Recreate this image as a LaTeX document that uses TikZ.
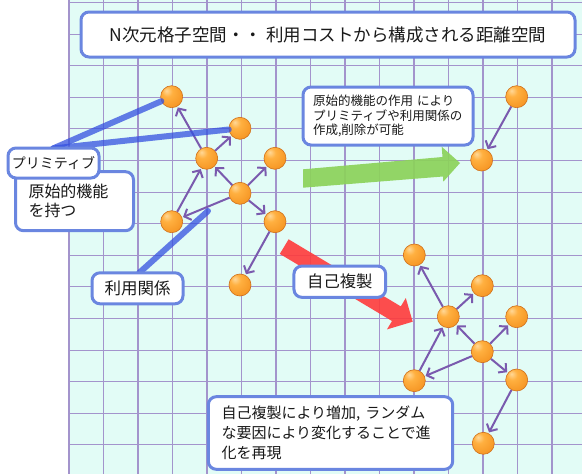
\documentclass[tikz,border=0pt]{standalone}
\usepackage{fontspec}
\newfontfamily\jp{Noto Sans CJK JP}
\usetikzlibrary{arrows.meta}
\definecolor{gridbg}{HTML}{E2FCF6}
\definecolor{gridln}{HTML}{A394CC}
\definecolor{boxln}{HTML}{6A86E0}
\definecolor{arr}{HTML}{7A5AAE}
\definecolor{ballhi}{HTML}{FFD898}
\definecolor{ballin}{HTML}{FFB040}
\definecolor{ballout}{HTML}{F59422}
\definecolor{ballrim}{HTML}{D0701A}
\definecolor{bluel}{HTML}{3451E0}
\definecolor{greenar}{HTML}{8CD25A}
\definecolor{redar}{HTML}{FF3B3B}
\pgfdeclareradialshading{orangeball}{\pgfpoint{-12bp}{14bp}}{color(0bp)=(ballhi); color(12bp)=(ballin); color(36bp)=(ballout); color(56bp)=(ballrim); color(80bp)=(ballrim)}
\begin{document}
\begin{tikzpicture}[x=1pt,y=-1pt,
 ball/.style={circle, minimum size=22pt, inner sep=0pt, shading=orangeball, draw=ballrim, line width=0.6pt},
 link/.style={draw=arr, line width=2pt, -{Straight Barb[length=5.5pt,width=12pt]}, shorten >=1pt},
 callout/.style={draw=boxln, line width=3pt, fill=white, rounded corners=8pt, inner sep=0pt, text=black!90},
 pointer/.style={draw=bluel, draw opacity=0.75, line width=6pt, line cap=round},
 gridline/.style={draw=gridln, line width=1.1pt},
]
\useasboundingbox (0,0) rectangle (582,474);
\fill[white] (0,0) rectangle (582,474);
% grid
\fill[gridbg] (69,0) rectangle (582,474);
\foreach \k in {0,...,14} \draw[gridline] (69+34.5*\k,0) -- (69+34.5*\k,474);
\foreach \k in {0,...,14} \draw[gridline] (69,2.5+31.6*\k) -- (582,2.5+31.6*\k);
% block arrows
\fill[greenar, fill opacity=0.92] (303,169.3) -- (442.5,157) -- (441.7,146.7) -- (460,163) -- (443.3,181.7) -- (443,176.5) -- (303,187.7) -- cycle;
\fill[redar, fill opacity=0.9] (288.6,239.3) -- (400.8,306.4) -- (405.8,298.0) -- (412.7,321.7) -- (387.0,329.4) -- (392.0,321.0) -- (279.8,253.9) -- cycle;
% balls, left group
\node[ball] (A) at (171.7,96.7) {};
\node[ball] (B) at (240,128.3) {};
\node[ball] (C) at (206.7,158.3) {};
\node[ball] (D) at (275,158.3) {};
\node[ball] (E) at (240,193.3) {};
\node[ball] (F) at (171.7,221.7) {};
\node[ball] (G) at (275,221.7) {};
\node[ball] (H) at (240,285) {};
% top right
\node[ball] (I) at (516.7,96.7) {};
\node[ball] (J) at (481.7,160) {};
% lower right group
\node[ball] (K) at (414.3,255) {};
\node[ball] (L) at (482.3,285.7) {};
\node[ball] (M) at (448.3,316.7) {};
\node[ball] (N) at (516.7,316.7) {};
\node[ball] (O) at (482.3,351.7) {};
\node[ball] (P) at (414.3,380.7) {};
\node[ball] (Q) at (516.7,380) {};
\node[ball] (R) at (483.3,443.3) {};
% links
\draw[link] (C) -- (A);
\draw[link] (C) -- (B);
\draw[link] (E) -- (C);
\draw[link] (E) -- (D);
\draw[link] (E) -- (F);
\draw[link] (F) -- (C);
\draw[link] (E) -- (G);
\draw[link] (G) -- (H);
\draw[link] (I) -- (J);
\draw[link] (M) -- (K);
\draw[link] (M) -- (L);
\draw[link] (O) -- (M);
\draw[link] (O) -- (N);
\draw[link] (P) -- (M);
\draw[link] (O) -- (P);
\draw[link] (O) -- (Q);
\draw[link] (Q) -- (R);
% pointers (start points at the tops of their callouts)
\coordinate (primtop) at (53,148.5);
\coordinate (riyoutop) at (139,273);
\coordinate (uend) at (208,211);
\draw[pointer] (primtop) -- (A);
\draw[pointer] (primtop) -- (B);
\draw[pointer] (riyoutop) -- (uend);
% callouts
\node[callout, minimum width=494pt, minimum height=45pt, font=\jp\fontsize{17.5}{20}\selectfont] (title) at (328,34.5) {N次元格子空間・・ 利用コストから構成される距離空間};
\node[callout, minimum width=109pt, minimum height=59pt, text width=92pt, inner xsep=13pt, align=left, font=\jp\fontsize{16}{19}\selectfont] (kino) at (74.5,201.2) {原始的機能\\を持つ};
\node[callout, minimum width=91pt, minimum height=30pt, font=\jp\fontsize{14}{16}\selectfont] (prim) at (53.5,163) {プリミティブ};
\node[callout, minimum width=91pt, minimum height=31pt, font=\jp\fontsize{16.5}{19}\selectfont] (riyou) at (137.5,288.3) {利用関係};
\node[callout, minimum width=91.7pt, minimum height=31.3pt, font=\jp\fontsize{16.3}{19}\selectfont] (fukusei) at (339.8,281.7) {自己複製};
\node[callout, minimum width=169pt, minimum height=58pt, text width=150pt, inner xsep=10pt, align=left, font=\jp\fontsize{12.5}{14.3}\selectfont] (sayo) at (388,116) {原始的機能の作用 により\\プリミティブや利用関係の\\作成,削除が可能};
\node[callout, minimum width=244.4pt, minimum height=72.6pt, text width=218pt, inner xsep=13pt, align=left, font=\jp\fontsize{15}{20}\selectfont] (shinka) at (330.5,433) {自己複製により増加, ランダム\\な要因により変化することで進\\化を再現};
\end{tikzpicture}
\end{document}
